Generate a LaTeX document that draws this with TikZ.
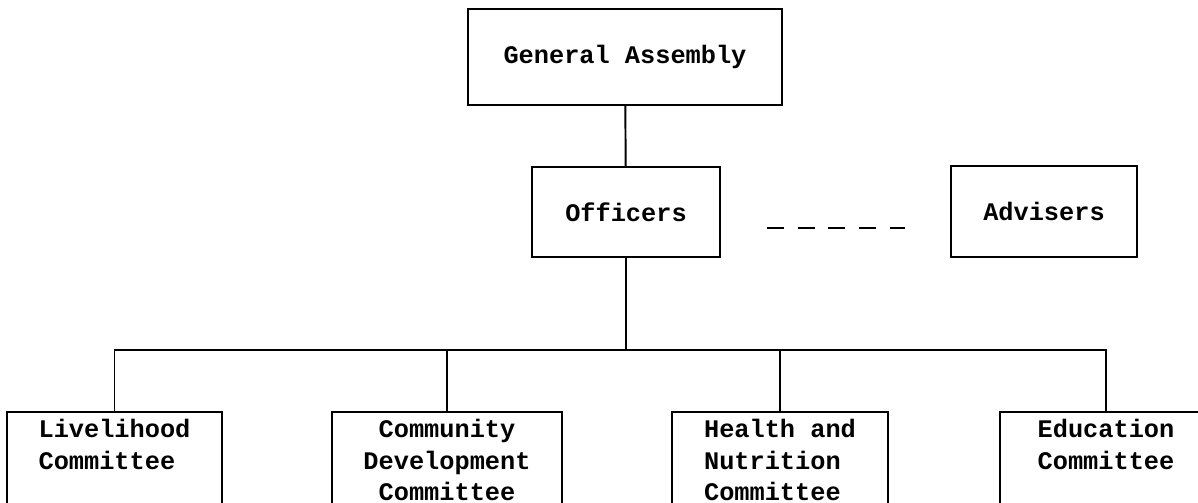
\documentclass[tikz,border=0pt]{standalone}
\usepackage{fontspec}
\setmonofont{Liberation Mono}
\usepackage{tikz}
\usetikzlibrary{positioning}

\begin{document}
\begin{tikzpicture}[x=0.02cm, y=-0.02cm, line width=1.1pt,
    every node/.style={font=\ttfamily\bfseries\fontsize{14.4}{17.8}\selectfont},
    orgbox/.style={draw, line width=1.1pt, inner sep=0pt},
    combox/.style={draw, line width=1.1pt, inner sep=0pt, minimum width=4.3cm, minimum height=3cm, anchor=north},
    comtext/.style={inner sep=0pt, anchor=north}]
        \useasboundingbox (0,0) rectangle (1198,503);
        \clip (0,0) rectangle (1198,503);

        % Top -- assembly, officers, advisers
        \node[orgbox, minimum width=6.28cm, minimum height=1.92cm] (ga) at (625,57) {General Assembly};
        \node[orgbox, minimum width=3.76cm, minimum height=1.8cm] (off) at (626,212) {Officers};
        \node[orgbox, minimum width=3.72cm, minimum height=1.82cm] (adv) at (1044,211.5) {Advisers};
        \draw (ga) -- (off);
        \coordinate (dashL) at (767,228);
        \coordinate (dashR) at (905,228);
        \draw[line width=1.5pt, dash pattern=on 0.34cm off 0.275cm] (dashL) -- (dashR);

        % Bottom -- committees
        \node[combox] (liv) at (114.5,411) {};
        \node[combox, minimum width=4.6cm] (cd) at (447,411) {};
        \node[combox, minimum width=4.32cm] (hn) at (780,411) {};
        \node[combox, minimum width=4.24cm] (edu) at (1106,411) {};
        \node[comtext, align=left, below=0.15cm of liv.north] (livT) {Livelihood\\Committee};
        \node[comtext, align=center, below=0.15cm of cd.north] (cdT) {Community\\Development\\Committee};
        \node[comtext, align=left, below=0.15cm of hn.north] (hnT) {Health and\\Nutrition\\Committee};
        \node[comtext, align=left, below=0.15cm of edu.north] (eduT) {Education\\Committee};

        % Tree lines
        \coordinate (bus) at (off.south |- 0,350);
        \draw (off.south) -- (bus);
        \draw (liv.north) |- (bus);
        \draw (cd.north) |- (bus);
        \draw (hn.north) |- (bus);
        \draw (edu.north) |- (bus);
\end{tikzpicture}
\end{document}
